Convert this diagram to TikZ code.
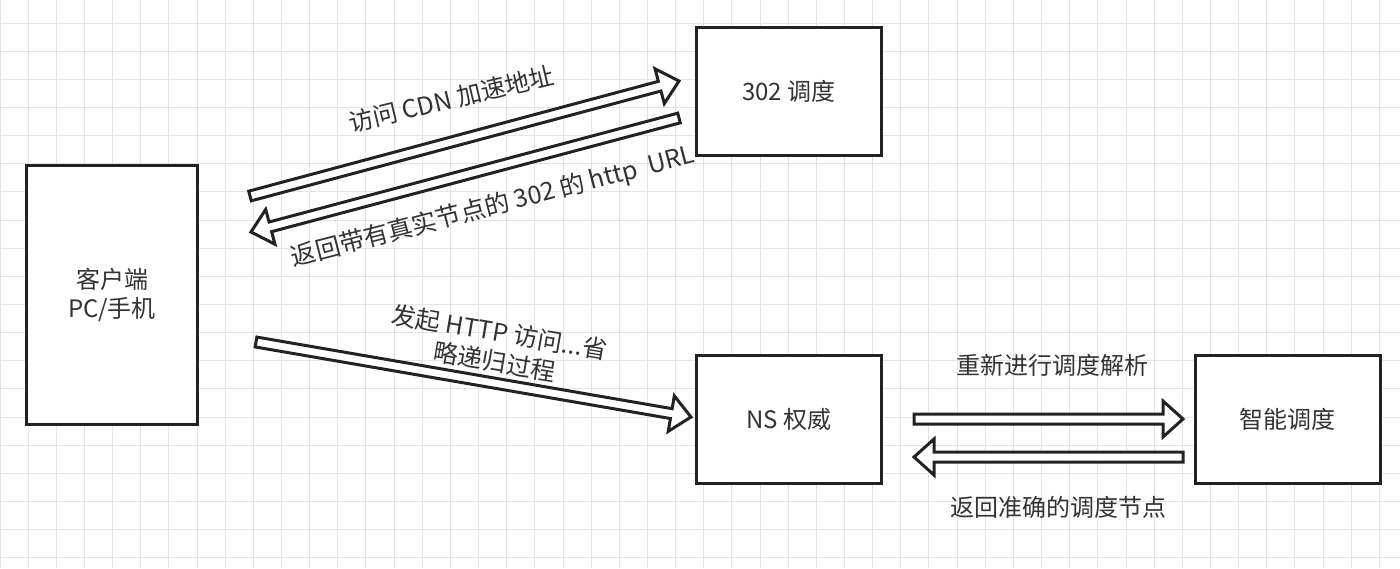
\documentclass[tikz,border=0pt]{standalone}
\usepackage{fontspec}
\setmainfont{Noto Sans CJK SC}
\usetikzlibrary{calc}

\definecolor{gridgray}{HTML}{E4E4E4}
\definecolor{inkgray}{HTML}{333333}
\definecolor{linegray}{HTML}{222222}

\tikzset{
  box/.style={draw=linegray, line width=1.5pt, fill=white, minimum width=92.5pt,
    minimum height=64pt, inner sep=0pt, align=center, text=inkgray},
  fatarrow/.style={draw=linegray, line width=1.5pt, fill=white},
  lbl/.style={text=inkgray, inner sep=0pt, align=center},
  gridline/.style={gridgray, line width=0.5pt}
}

% hollow arrow from #1 to #2
\newcommand{\fatarrow}[2]{%
  \path let \p1=($(#2)-(#1)$) in \pgfextra{%
    \pgfmathsetmacro\arrang{atan2(\y1,\x1)}%
    \pgfmathsetmacro\arrlen{veclen(\x1,\y1)}%
    \global\let\arrang\arrang \global\let\arrlen\arrlen};
  \begin{scope}[shift={(#1)}, rotate=\arrang]
    \draw[fatarrow] (0pt,-2.5pt) -- (\arrlen pt-10pt,-2.5pt) -- (\arrlen pt-10pt,-9pt)
      -- (\arrlen pt,0pt) -- (\arrlen pt-10pt,9pt) -- (\arrlen pt-10pt,2.5pt)
      -- (0pt,2.5pt) -- cycle;
  \end{scope}}

\begin{document}
\begin{tikzpicture}[x=0.5pt, y=-0.5pt, font=\fontsize{12}{14.5}\selectfont]
  \useasboundingbox (0,0) rectangle (1400,568);
  % 背景网格
  \fill[white] (0,0) rectangle (1400,568);
  \foreach \gx in {0,...,49}
    \draw[gridline] (\gx*28.15,0) -- (\gx*28.15,568);
  \foreach \gy in {0,...,19}
    \draw[gridline] (0,23+\gy*28.15) -- (1400,23+\gy*28.15);

  % 方框
  \node[box, minimum width=85.5pt, minimum height=129.5pt] (client) at (112,295) {客户端\\PC/手机};
  \node[box] (redirect) at (789,91.5) {302 调度};
  \node[box] (ns) at (789,419) {NS 权威};
  \node[box] (smart) at (1287.5,419) {智能调度};

  % 箭头端点
  \coordinate (visitS) at (250,196);
  \coordinate (visitE) at (679,81);
  \coordinate (backS) at (679,118);
  \coordinate (backE) at (251,232);
  \coordinate (httpS) at (256,342);
  \coordinate (httpE) at (691,417);
  \coordinate (resolveS) at (914,419);
  \coordinate (resolveE) at (1183,419);
  \coordinate (returnS) at (1183,457);
  \coordinate (returnE) at (914,457);

  % 空心箭头
  \fatarrow{visitS}{visitE}
  \fatarrow{backS}{backE}
  \fatarrow{httpS}{httpE}
  \fatarrow{resolveS}{resolveE}
  \fatarrow{returnS}{returnE}

  % 文字
  \node[lbl, rotate=13.5, scale=1.03] (lvisit) at (451,99) {访问 CDN 加速地址};
  \node[lbl, rotate=14.5, scale=1.04] (lback) at (493,207) {返回带有真实节点的 302 的 http\ \ URL};
  \node[lbl, rotate=-9.5, scale=1.03] (lhttp) at (497,347) {发起 HTTP 访问...省\\略递归过程};
  \node[lbl] (lresolve) at (1052,365) {重新进行调度解析};
  \node[lbl] (lreturn) at (1058,507) {返回准确的调度节点};
\end{tikzpicture}
\end{document}
